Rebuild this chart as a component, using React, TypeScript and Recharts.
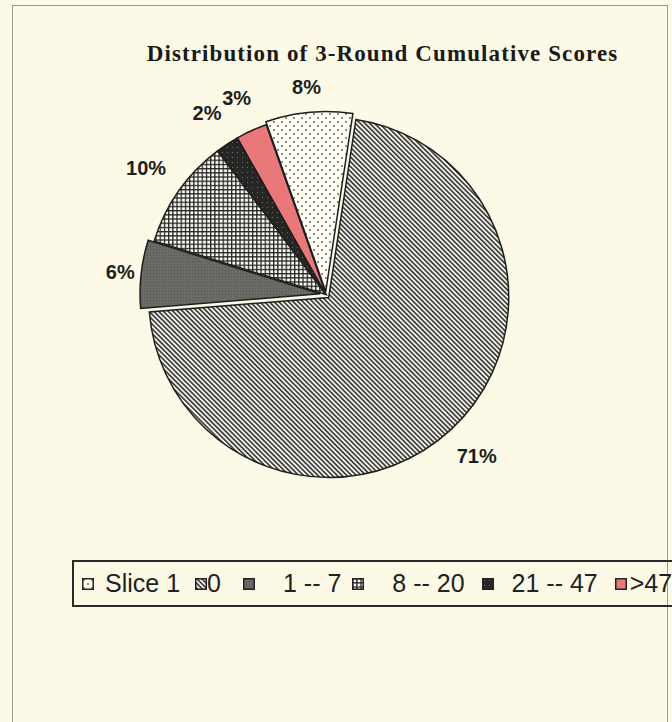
import React from 'react'
import { PieChart, Pie, Cell, Legend } from 'recharts'

// score bands, in the order the legend lists them
const categories = ['Slice 1', '0', '1 -- 7', '8 -- 20', '21 -- 47', '>47']
const shares = [7.8, 71.3, 6.1, 9.9, 2.1, 2.8]
const explode = [3, 4, 6, 0, 0, 0]
const fills = ['url(#p-dots)', 'url(#p-diag)', 'url(#p-gray)', 'url(#p-grid)', 'url(#p-black)', '#e8787a']
const labelPad = [25, 37, 21, 40, 37, 36]
const legendGap = [11, 0, 28, 28, 18, 3]
const legendAfter = [15, 22, 11, 17, 17, 0]

const data = categories.map((name, i) => ({ name, value: shares[i] }))

const START = 109.4
const CX = 326
const CY = 294.5
const R = 180
const RAD = Math.PI / 180
const total = shares.reduce((a, b) => a + b, 0)

function midAngle(i: number) {
  const before = shares.slice(0, i).reduce((a, b) => a + b, 0)
  return START - ((before + shares[i] / 2) / total) * 360
}

const renderLabel = (idx: number) => (props: any) => {
  if (props.index !== idx) return null
  const { cx, cy, midAngle: mid, outerRadius, percent } = props
  const r = outerRadius + labelPad[idx]
  const x = cx + r * Math.cos(-mid * RAD)
  const y = cy + r * Math.sin(-mid * RAD)
  return (
    <text
      x={x}
      y={y}
      textAnchor="middle"
      dominantBaseline="central"
      fill="#1e1e1e"
      fontSize={20}
      fontWeight="bold"
      fontFamily="'Liberation Sans', Arial, sans-serif"
    >
      {Math.round(percent * 100)}%
    </text>
  )
}

const LegendBox = (props: any) => {
  const seen = new Set<string>()
  const items = (props.payload || [])
    .filter((p: any) => {
      if (p.type === 'none' || seen.has(p.value)) return false
      seen.add(p.value)
      return true
    })
    .sort((a: any, b: any) => categories.indexOf(a.value) - categories.indexOf(b.value))
  return (
    <div
      style={{
        display: 'flex',
        alignItems: 'center',
        height: 43,
        border: '2px solid #2a2a2a',
        paddingLeft: 8,
        fontFamily: "'Liberation Sans', Arial, sans-serif",
        fontSize: 25,
        color: '#222',
        whiteSpace: 'nowrap',
      }}
    >
      {items.map((p: any) => {
        const i = categories.indexOf(p.value)
        return (
          <span key={p.value} style={{ display: 'flex', alignItems: 'center', marginRight: legendAfter[i] }}>
            <svg width={12} height={12} style={{ marginRight: legendGap[i], flexShrink: 0 }}>
              <rect x={0.75} y={0.75} width={10.5} height={10.5} fill={fills[i]} stroke="#222" strokeWidth={1.5} />
            </svg>
            <span>{p.value}</span>
          </span>
        )
      })}
    </div>
  )
}

export default function App() {
  return (
    <div
      style={{
        position: 'absolute',
        left: 0,
        top: 0,
        width: 672,
        height: 722,
        overflow: 'hidden',
        background: '#fcfae6',
      }}
    >
      <div
        style={{
          position: 'absolute',
          left: 12,
          top: 5,
          width: 654,
          height: 740,
          border: '1px solid #9a9a92',
        }}
      />
      <div
        style={{
          position: 'absolute',
          left: 120,
          top: 41,
          width: 525,
          textAlign: 'center',
          fontFamily: "'Liberation Serif', 'Times New Roman', serif",
          fontWeight: 'bold',
          fontSize: 23,
          letterSpacing: 1.1,
          color: '#1a1a1a',
          whiteSpace: 'nowrap',
        }}
      >
        Distribution of 3-Round Cumulative Scores
      </div>
      <div style={{ position: 'absolute', left: 0, top: 0 }}>
        <PieChart width={672} height={722} margin={{ top: 0, right: 0, bottom: 0, left: 0 }}>
          <defs>
            <pattern id="p-dots" width="8" height="8" patternUnits="userSpaceOnUse">
              <rect width="8" height="8" fill="#fffff4" />
              <circle cx="2" cy="2" r="0.9" fill="#555" />
              <circle cx="6" cy="6" r="0.9" fill="#555" />
            </pattern>
            <pattern id="p-diag" width="3.4" height="3.4" patternUnits="userSpaceOnUse" patternTransform="rotate(-45)">
              <rect width="3.4" height="3.4" fill="#f2f2ea" />
              <rect width="1.6" height="3.4" fill="#383838" />
            </pattern>
            <pattern id="p-gray" width="3" height="3" patternUnits="userSpaceOnUse">
              <rect width="3" height="3" fill="#6a6a66" />
              <rect width="1" height="1" fill="#55554f" />
            </pattern>
            <pattern id="p-grid" width="4.2" height="4.2" patternUnits="userSpaceOnUse">
              <rect width="4.2" height="4.2" fill="#fbfbf4" />
              <rect width="4.2" height="1.3" fill="#262626" />
              <rect width="1.3" height="4.2" fill="#262626" />
            </pattern>
            <pattern id="p-black" width="5" height="5" patternUnits="userSpaceOnUse">
              <rect width="5" height="5" fill="#262624" />
              <circle cx="2.5" cy="2.5" r="0.6" fill="#777" />
            </pattern>
          </defs>
          {categories.map((name, k) => {
            const a = midAngle(k) * RAD
            return (
              <Pie
                key={name}
                data={data}
                dataKey="value"
                nameKey="name"
                cx={CX + explode[k] * Math.cos(a)}
                cy={CY - explode[k] * Math.sin(a)}
                outerRadius={R}
                startAngle={START}
                endAngle={START - 360}
                legendType={k === 0 ? 'rect' : 'none'}
                label={renderLabel(k)}
                labelLine={false}
                isAnimationActive={false}
              >
                {data.map((d, i) => (
                  <Cell
                    key={d.name}
                    fill={i === k ? fills[i] : 'none'}
                    stroke={i === k ? '#1e1e1e' : 'none'}
                    strokeWidth={1.5}
                  />
                ))}
              </Pie>
            )
          })}
          <Legend
            content={LegendBox}
            wrapperStyle={{ left: 72, top: 560, width: 640 }}
          />
        </PieChart>
      </div>
    </div>
  )
}
